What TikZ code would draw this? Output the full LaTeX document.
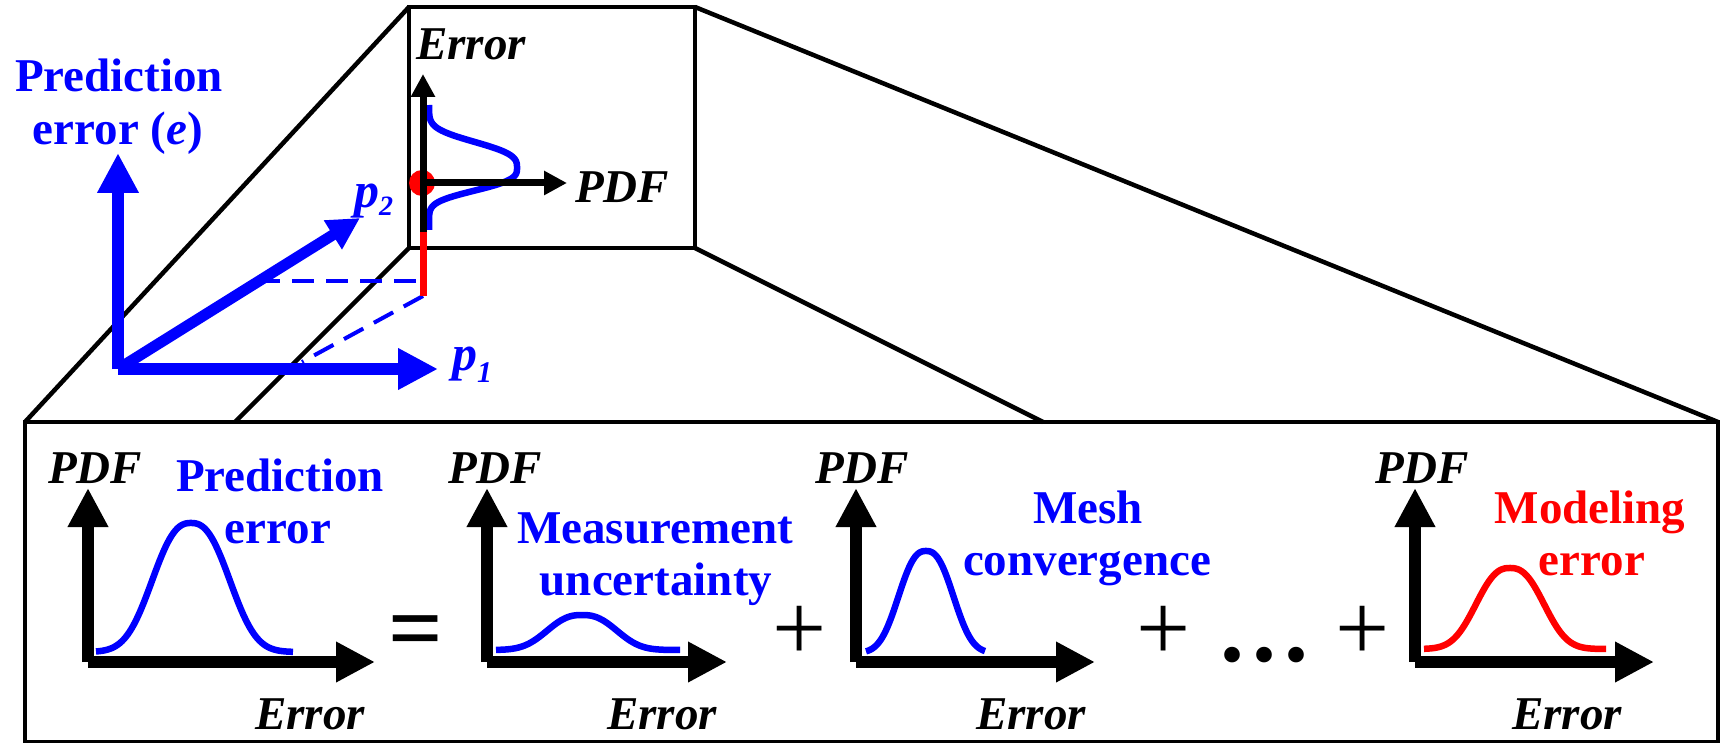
\documentclass[tikz,border=0pt]{standalone}
\usepackage{fontspec}
\setmainfont{Liberation Serif}
\usetikzlibrary{arrows.meta}
\definecolor{pblue}{RGB}{0,0,255}
\definecolor{pred}{RGB}{255,0,0}
\begin{document}
\begin{tikzpicture}[x=1pt,y=-1pt,
  frame/.style={line width=4.5pt, line join=miter},
  bigaxis/.style={line width=12pt, -{Triangle[length=39pt,width=38pt]}},
  smallaxis/.style={line width=7pt, -{Triangle[length=23pt,width=23pt]}},
  blueaxis/.style={pblue, line width=12pt, -{Triangle[length=40pt,width=39pt]}},
  dashline/.style={pblue, line width=4pt, dash pattern=on 22pt off 12pt},
  curve/.style={line width=6.5pt, line join=round},
  bl/.style={inner sep=0pt, font=\fontsize{47}{52}\selectfont\bfseries},
  bi/.style={inner sep=0pt, font=\fontsize{47}{52}\selectfont\bfseries\itshape},
  op/.style={inner sep=0pt, anchor=base, font=\fontsize{96}{100}\selectfont},
]
\useasboundingbox (0,0) rectangle (1720,743);
% ---------- frames ----------
\coordinate (TL) at (409,7);
\coordinate (TR) at (695,7);
\coordinate (BL) at (409,248);
\coordinate (BR) at (695,248);
\coordinate (LTL) at (25,422);
\coordinate (LB1) at (235,422);
\coordinate (LB2) at (1043,422);
\coordinate (LTR) at (1718,422);
\coordinate (LBR) at (1718,742);
\draw[frame] (LTL) rectangle (LBR);
\draw[frame] (TL) -- (LTL);
\draw[frame] (BL) -- (LB1);
\draw[frame] (BR) -- (LB2);
\draw[frame] (TR) -- (LTR);
\draw[frame] (TL) rectangle (BR);
% ---------- 3D axes ----------
\coordinate (O) at (118,369);
\coordinate (Etip) at (118,153);
\coordinate (P1tip) at (438,369);
\coordinate (P2tip) at (360,218);
\coordinate (D1) at (258,281);
\coordinate (D1e) at (420,281);
\coordinate (Rtop) at (423,232);
\coordinate (Rbot) at (423,296);
\coordinate (D2) at (302,362);
\draw[dashline] (D1) -- (D1e);
\draw[dashline] (Rbot) -- (D2);
\draw[blueaxis] (O) -- (Etip);
\draw[blueaxis] (O) -- (P1tip);
\draw[pblue, line width=11pt, -{Triangle[length=32pt,width=32pt]}] (O) -- (P2tip);
\node[bl, pblue, anchor=base] (predA) at (119,92) {Prediction};
\node[bl, pblue, anchor=base] (predB) at (118,145) {error (\textit{e})};
\node[inner sep=0pt, anchor=base west, pblue, font=\fontsize{50}{50}\selectfont\bfseries\itshape] (ptwo) at (354,208) {p\raisebox{-8pt}{\fontsize{28}{28}\selectfont 2}};
\node[inner sep=0pt, anchor=base west, pblue, font=\fontsize{50}{50}\selectfont\bfseries\itshape] (pone) at (452,370) {p\raisebox{-12pt}{\fontsize{30}{30}\selectfont 1}};
% ---------- top box content ----------
\draw[pblue, curve]
  plot[domain=105:168, samples=60] ({429+88*exp(-(abs(\x-168)/30)^3)}, \x)
  -- plot[domain=168:230, samples=60] ({429+88*exp(-(abs(\x-168)/26)^3)}, \x);
\draw[pred, line width=7pt] (Rtop) -- (Rbot);
\fill[pred] (422,183) circle (13);
\coordinate (Eorig) at (423,183);
\coordinate (Eaxtop) at (423,74);
\coordinate (Eaxright) at (567,183);
\draw[smallaxis] (Rtop) -- (Eaxtop);
\draw[smallaxis] (Eorig) -- (Eaxright);
\node[bi, anchor=base] (errTop) at (471,60) {Error};
\node[bi, anchor=base west] (pdfTop) at (575,203) {PDF};
% ---------- bottom panels ----------
% panel 1
\coordinate (A0) at (88,662);
\coordinate (Ay) at (88,488);
\coordinate (Ax) at (375,662);
\draw[pblue, curve] plot[domain=96:293, samples=100] (\x, {652-129*exp(-(abs(\x-191)/48)^2.5)});
\draw[bigaxis] (A0) -- (Ay);
\draw[bigaxis] (A0) -- (Ax);
\node[bi, anchor=base] (pdfA) at (95,483) {PDF};
\node[bi, anchor=base] (errA) at (310,729) {Error};
\node[bl, pblue, anchor=base] (labA1) at (280,491) {Prediction};
\node[bl, pblue, anchor=base] (labA2) at (278,543) {error};
\node[op, font=\fontsize{96}{100}\selectfont\bfseries] (eq) at (416,660) {=};
% panel 2
\coordinate (B0) at (487,662);
\coordinate (By) at (487,488);
\coordinate (Bx) at (727,662);
\draw[pblue, curve] plot[domain=496:680, samples=100] (\x, {650-35*exp(-(abs(\x-582)/43)^2.5)});
\draw[bigaxis] (B0) -- (By);
\draw[bigaxis] (B0) -- (Bx);
\node[bi, anchor=base] (pdfB) at (495,483) {PDF};
\node[bi, anchor=base] (errB) at (662,729) {Error};
\node[bl, pblue, anchor=base] (labB1) at (655,543) {Measurement};
\node[bl, pblue, anchor=base] (labB2) at (656,595) {uncertainty};
\node[op] (plusA) at (800,660) {+};
% panel 3
\coordinate (C0) at (856,662);
\coordinate (Cy) at (856,488);
\coordinate (Cx) at (1095,662);
\draw[pblue, curve] plot[domain=866:985, samples=100] (\x, {653-102*exp(-(abs(\x-926)/34)^2.5)});
\draw[bigaxis] (C0) -- (Cy);
\draw[bigaxis] (C0) -- (Cx);
\node[bi, anchor=base] (pdfC) at (862,483) {PDF};
\node[bi, anchor=base] (errC) at (1031,729) {Error};
\node[bl, pblue, anchor=base] (labC1) at (1088,523) {Mesh};
\node[bl, pblue, anchor=base] (labC2) at (1087,575) {convergence};
\node[op] (plusB) at (1164,660) {+};
\node[inner sep=0pt, anchor=base west, font=\fontsize{96}{100}\selectfont\bfseries] (dots) at (1220,661) {.\hspace{8pt}.\hspace{8pt}.};
\node[op] (plusC) at (1363,660) {+};
% panel 4
\coordinate (D0) at (1415,662);
\coordinate (Dy) at (1415,488);
\coordinate (Dx) at (1654,662);
\draw[pred, curve] plot[domain=1424:1606, samples=100] (\x, {649-81*exp(-(abs(\x-1510)/42)^2.5)});
\draw[bigaxis] (D0) -- (Dy);
\draw[bigaxis] (D0) -- (Dx);
\node[bi, anchor=base] (pdfD) at (1422,483) {PDF};
\node[bi, anchor=base] (errD) at (1567,729) {Error};
\node[bl, pred, anchor=base] (labD1) at (1590,523) {Modeling};
\node[bl, pred, anchor=base] (labD2) at (1592,575) {error};
\end{tikzpicture}
\end{document}
